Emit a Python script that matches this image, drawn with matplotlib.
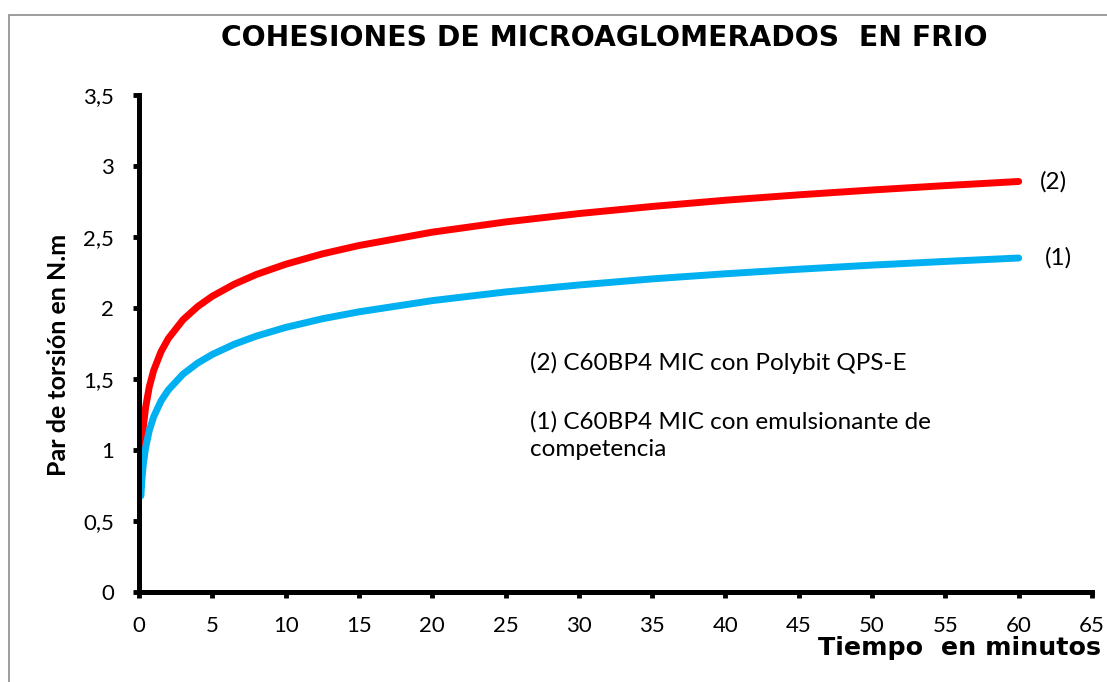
import matplotlib
matplotlib.use("Agg")
import matplotlib.pyplot as plt
from matplotlib.patches import Rectangle

# tiempo (min) y par de torsion (N.m)
tiempo = [0.13, 0.2, 0.3, 0.45, 0.7, 1, 1.5, 2, 3, 4, 5, 6.5, 8, 10, 12.5, 15,
          20, 25, 30, 35, 40, 45, 50, 55, 60]
par_polybit = [0.897, 1.037, 1.169, 1.300, 1.444, 1.560, 1.692, 1.785, 1.917, 2.010,
               2.083, 2.168, 2.236, 2.308, 2.381, 2.440, 2.534, 2.606, 2.665, 2.715,
               2.759, 2.797, 2.831, 2.862, 2.891]
par_competencia = [0.677, 0.795, 0.905, 1.016, 1.137, 1.234, 1.345, 1.423, 1.534, 1.612,
                   1.673, 1.745, 1.802, 1.863, 1.924, 1.973, 2.052, 2.113, 2.162, 2.205,
                   2.241, 2.273, 2.302, 2.328, 2.352]

x_ticks = list(range(0, 70, 5))
y_ticks = [0, 0.5, 1, 1.5, 2, 2.5, 3, 3.5]
y_labels = ['0', '0,5', '1', '1,5', '2', '2,5', '3', '3,5']

TICK_FONT = 'Lato'
BOLD_FONT = 'DejaVu Sans'

fig = plt.figure(figsize=(11.07, 6.82), dpi=100)
fig.patches.append(Rectangle((9 / 1107, -0.1), 1.2, 1.1 - 15 / 682, transform=fig.transFigure,
                             fill=False, edgecolor='#8c8c8c', linewidth=1.2))

ax = fig.add_axes([139 / 1107, 1 - 592 / 682, (1092 - 139) / 1107, (592 - 95) / 682])

ax.plot(tiempo, par_polybit, color='#ff0000', linewidth=5, solid_capstyle='round',
        solid_joinstyle='round')
ax.plot(tiempo, par_competencia, color='#00b0f0', linewidth=5, solid_capstyle='round',
        solid_joinstyle='round')

ax.set_xlim(0, 65)
ax.set_ylim(0, 3.5)
ax.set_xticks(x_ticks)
ax.set_xticklabels([str(t) for t in x_ticks], fontfamily=TICK_FONT, fontsize=16)
ax.set_yticks(y_ticks)
ax.set_yticklabels(y_labels, fontfamily=TICK_FONT, fontsize=16)
ax.tick_params(axis='both', length=4, width=3.5, direction='out')
ax.tick_params(axis='x', pad=13)
ax.tick_params(axis='y', pad=14)

for side in ['top', 'right']:
  ax.spines[side].set_visible(False)
for side in ['left', 'bottom']:
  ax.spines[side].set_linewidth(3.6)
  ax.spines[side].set_capstyle('projecting')

fig.text(604 / 1107, 1 - 38 / 682, 'COHESIONES DE MICROAGLOMERADOS  EN FRIO',
         fontfamily=BOLD_FONT, fontweight='bold', fontsize=20.3, ha='center', va='center')
fig.text(1101 / 1107, 1 - 648 / 682, 'Tiempo  en minutos',
         fontfamily=BOLD_FONT, fontweight='bold', fontsize=18.3, ha='right', va='center')
fig.text(58 / 1107, 1 - 355 / 682, 'Par de torsión en N.m',
         fontfamily='Lato', fontweight='bold', fontsize=18,
         rotation=90, ha='center', va='center')

ax.text(60 + 21 / 14.66, 2.89, '(2)', fontfamily=TICK_FONT, fontsize=17.5, va='center', ha='left')
ax.text(60 + 26 / 14.66, 2.35, '(1)', fontfamily=TICK_FONT, fontsize=17.5, va='center', ha='left')

ax.text(26.7, 1.61, '(2) C60BP4 MIC con Polybit QPS-E', fontfamily=TICK_FONT, fontsize=17.5,
        va='center', ha='left')
ax.text(26.7, 1.10, '(1) C60BP4 MIC con emulsionante de\ncompetencia', fontfamily=TICK_FONT,
        fontsize=17.5, va='center', ha='left', linespacing=1.4)

fig.savefig('out.png', dpi=100)
